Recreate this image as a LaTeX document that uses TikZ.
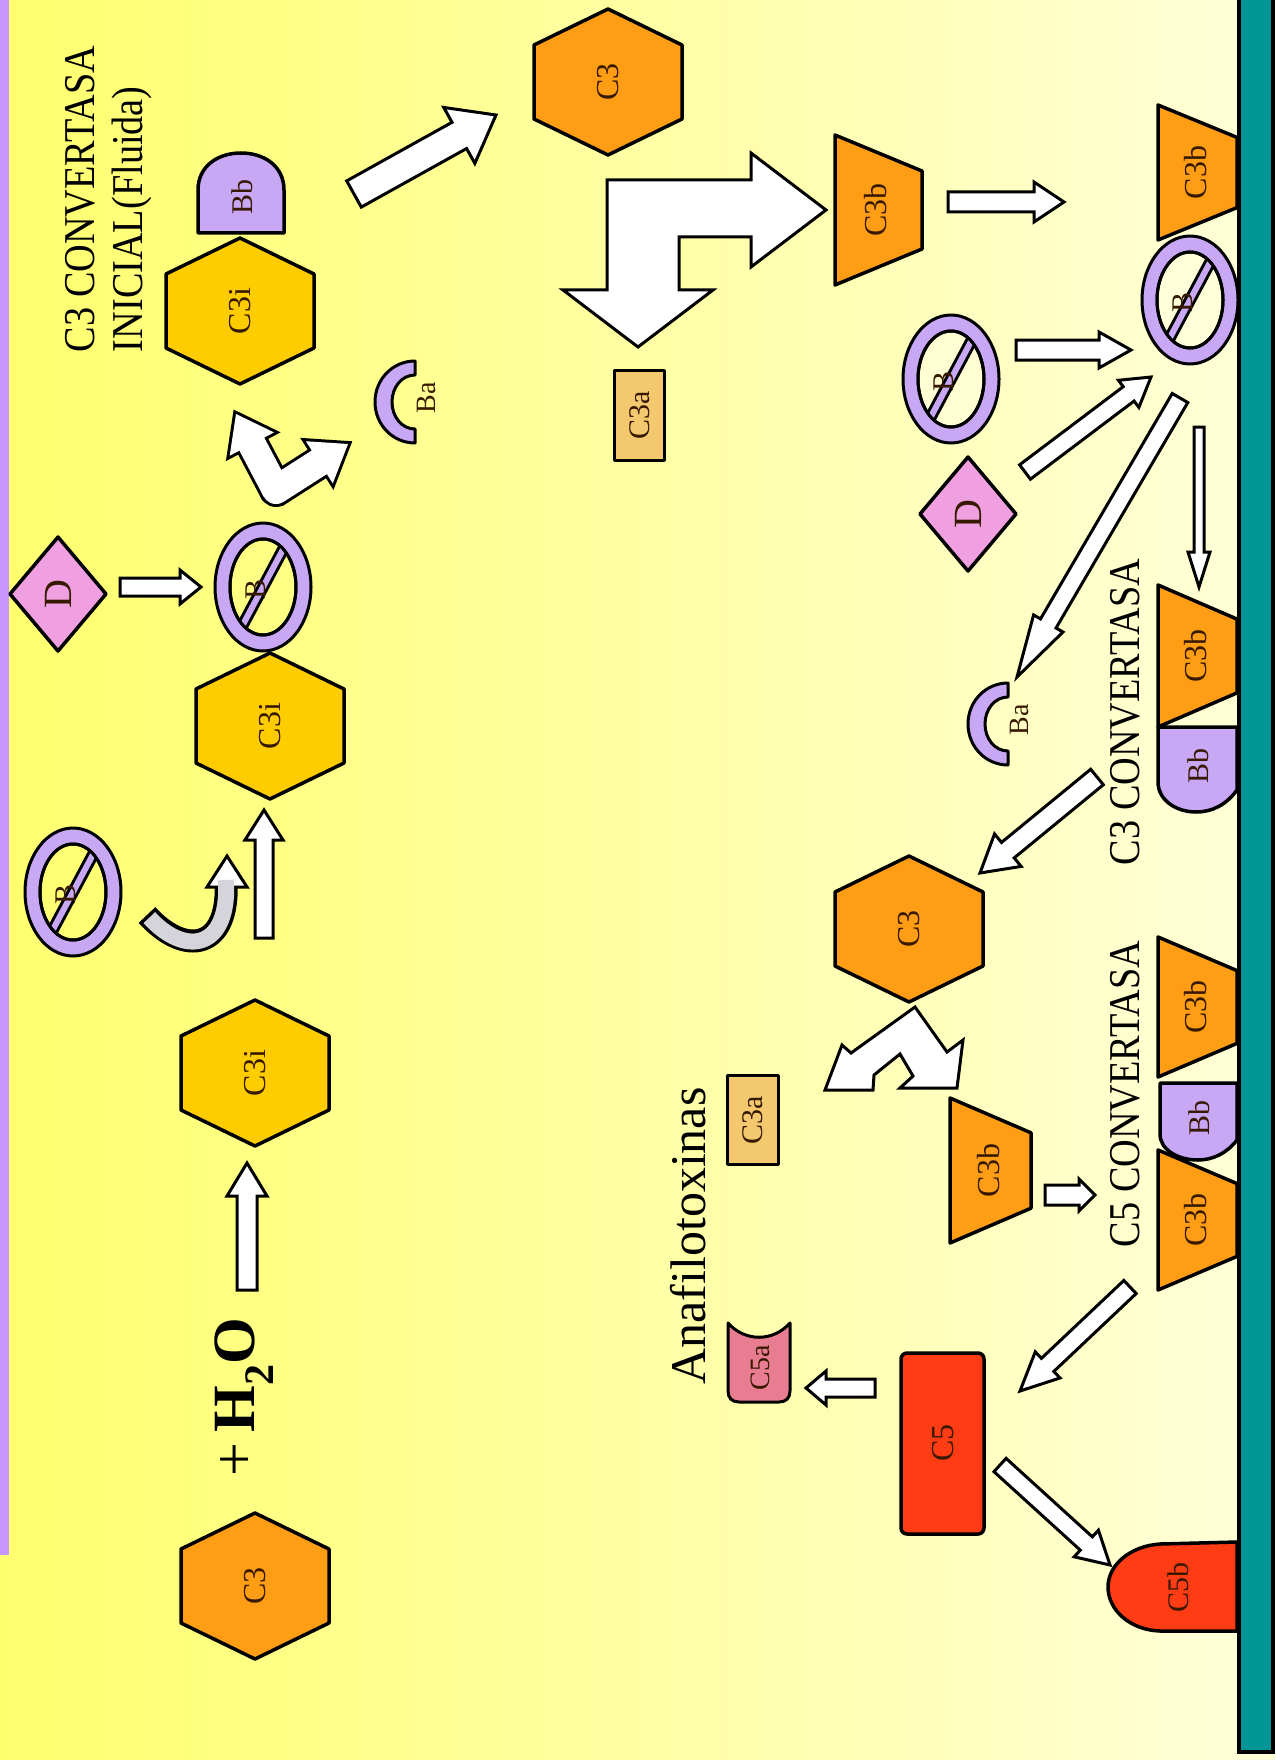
\documentclass[tikz,border=0pt]{standalone}
\usepackage{fontspec}
\setmainfont{Liberation Serif}
\usepackage{graphicx}
\usetikzlibrary{calc}

\definecolor{orng}{RGB}{255,158,20}
\definecolor{gold}{RGB}{255,204,0}
\definecolor{lav}{RGB}{200,168,245}
\definecolor{lavstrip}{RGB}{200,150,255}
\definecolor{pinkd}{RGB}{240,160,225}
\definecolor{tanbox}{RGB}{243,200,110}
\definecolor{redfive}{RGB}{255,60,20}
\definecolor{pinkfive}{RGB}{232,125,145}
\definecolor{membr}{RGB}{0,150,150}
\definecolor{ink}{RGB}{55,25,0}
\definecolor{bgL}{RGB}{255,255,110}
\definecolor{bgM}{RGB}{255,255,185}
\definecolor{bgR}{RGB}{255,255,218}
\definecolor{hookgray}{RGB}{212,212,218}

% hexagon with pointed top and bottom: name, x, y, fill, label
\newcommand{\hexnode}[5]{%
  \filldraw[shp, fill=#4] (#2,#3-73) -- (#2+74,#3-37) -- (#2+74,#3+37) -- (#2,#3+73)
    -- (#2-74,#3+37) -- (#2-74,#3-37) -- cycle;
  \node[lbl] (#1) at (#2,#3) {#5};}

% trapezoid (C3b): name, left x, top y, width, height, label
\newcommand{\trapnode}[6]{%
  \filldraw[shp, fill=orng] (#2,#3) -- (#2+#4,#3+0.24*#5) -- (#2+#4,#3+0.76*#5)
    -- (#2,#3+#5) -- cycle;
  \node[lbl] (#1) at (#2+0.47*#4,#3+0.5*#5) {#6};}

% factor B: ring with a slash; name, x, y, inner colour
\newcommand{\bnode}[4]{%
  \filldraw[shp, line width=3pt, fill=lav] (#2,#3) ellipse [x radius=48pt, y radius=64pt];
  \filldraw[draw=black, line width=3pt, fill=#4] (#2,#3) ellipse [x radius=33pt, y radius=48pt];
  \begin{scope}
    \clip (#2,#3) ellipse [x radius=33pt, y radius=48pt];
    \draw[line width=12pt] (#2+32,#3-60) -- (#2-32,#3+60);
    \draw[line width=6pt, lav] (#2+32,#3-60) -- (#2-32,#3+60);
  \end{scope}
  \draw[line width=3pt] (#2,#3) ellipse [x radius=33pt, y radius=48pt];
  \node[lbl, font=\fontsize{30}{30}\selectfont] (#1) at (#2-7,#3+2) {B};}

% factor D: diamond; name, x, y
\newcommand{\dnode}[3]{%
  \filldraw[shp, fill=pinkd] (#2,#3-57) -- (#2+48,#3) -- (#2,#3+57) -- (#2-48,#3) -- cycle;
  \node[lbl, font=\fontsize{40}{40}\selectfont] (#1) at (#2,#3) {D};}

% fragment Ba: crescent opening to the right; name, x, y
\newcommand{\banode}[3]{%
  \filldraw[shp, line width=3pt, fill=lav] (#2,#3-41) .. controls (#2-22,#3-41) and (#2-40,#3-23) .. (#2-40,#3)
    .. controls (#2-40,#3+23) and (#2-22,#3+41) .. (#2,#3+41) -- (#2,#3+27)
    .. controls (#2-13,#3+27) and (#2-23,#3+15) .. (#2-23,#3)
    .. controls (#2-23,#3-15) and (#2-13,#3-27) .. (#2,#3-27) -- cycle;
  \node[lbl, font=\fontsize{28}{28}\selectfont] (#1) at (#2+11,#3-4) {Ba};}

% block arrow from coordinate #1 to #2: shaft half width, head half width, head length
\newcommand{\barrow}[5]{%
  \coordinate (hb) at ($(#2)!#5!(#1)$);
  \draw[barr] ($(#1)!#3!90:(#2)$) -- ($(hb)!#3!-90:(#1)$) -- ($(hb)!#4!-90:(#1)$) -- (#2)
    -- ($(hb)!#4!90:(#1)$) -- ($(hb)!#3!90:(#1)$) -- ($(#1)!#3!-90:(#2)$) -- cycle;}

% two block arrows leaving one base point, merged into one outline
\newcommand{\twinarrow}[6]{%
  \coordinate (hbA) at ($(#2)!#6!(#1)$);
  \coordinate (hbB) at ($(#3)!#6!(#1)$);
  \foreach \pass in {0,1}{%
    \ifnum\pass=0 \tikzset{twinpass/.style={draw=black, line width=6pt, fill=white}}%
    \else \tikzset{twinpass/.style={fill=white}}\fi
    \path[twinpass, line join=miter] ($(#1)!#4!90:(#2)$) -- ($(hbA)!#4!-90:(#1)$) -- ($(hbA)!#5!-90:(#1)$) -- (#2)
      -- ($(hbA)!#5!90:(#1)$) -- ($(hbA)!#4!90:(#1)$) -- ($(#1)!#4!-90:(#2)$) -- cycle;
    \path[twinpass, line join=miter] ($(#1)!#4!90:(#3)$) -- ($(hbB)!#4!-90:(#1)$) -- ($(hbB)!#5!-90:(#1)$) -- (#3)
      -- ($(hbB)!#5!90:(#1)$) -- ($(hbB)!#4!90:(#1)$) -- ($(#1)!#4!-90:(#3)$) -- cycle;
    \path[twinpass] (#1) circle [radius=#4];
  }}

\begin{document}
\begin{tikzpicture}[x=1pt, y=-1pt,
  shp/.style={draw=black, line width=3.5pt, line join=round},
  lbl/.style={text=ink, inner sep=0pt, rotate=90, font=\fontsize{32}{32}\selectfont},
  barr/.style={draw=black, fill=white, line width=3pt, line join=miter},
  caption/.style={inner sep=0pt, rotate=90, text=black, align=left}]

\useasboundingbox (0,0) rectangle (1275,1760);
\shade[left color=bgL, middle color=bgM, right color=bgR] (0,0) rectangle (1275,1760);
\fill[lavstrip] (0,0) rectangle (9,1555);
\filldraw[fill=membr, draw=black, line width=4pt] (1239,-10) rectangle (1273,1752);

% ---------- fluid phase: spontaneous hydrolysis of C3 ----------
\hexnode{cthree}{255}{1586}{orng}{C3}
\node[caption, font=\fontsize{60}{60}\selectfont] (water) at (244,1397) {+\,\textbf{H\textsubscript{2}O}};
\hexnode{cthreei}{255}{1073}{gold}{C3i}
\bnode{bfree}{73}{892}{bgL!92!bgM}
\hexnode{cthreeiB}{270}{726}{gold}{C3i}
\bnode{bbound}{263}{587}{bgL!70!bgM}
\dnode{dfluid}{58}{594}
\banode{bafluid}{415}{402}
\hexnode{cthreeiBb}{240}{311}{gold}{C3i}
\filldraw[shp, fill=lav] (198,233) -- (198,190) .. controls (198,166) and (218,153) .. (241,153)
  .. controls (264,153) and (284,166) .. (284,190) -- (284,233) -- cycle;
\node[lbl, font=\fontsize{30}{30}\selectfont] (bbfluid) at (242,197) {Bb};
\node[caption, font=\fontsize{44}{48}\selectfont] (convini) at (109,199)
  {\scalebox{0.87}[1]{C3 CONVERTASA}\\\scalebox{0.87}[1]{INICIAL(Fluida)}};

% ---------- cleavage of C3 ----------
\hexnode{cthreeB}{608}{82}{orng}{C3}
\filldraw[shp, fill=tanbox, line width=3pt] (614,370) rectangle (664,460);
\node[lbl, font=\fontsize{30}{30}\selectfont] (cthreea) at (640,415) {C3a};
\trapnode{cthreeb}{835}{135}{87}{150}{C3b}

% ---------- surface: C3 convertase ----------
\trapnode{mcthreeb}{1158}{105}{79}{135}{C3b}
\bnode{mb}{1190}{300}{bgR}
\bnode{bsurf}{951}{379}{bgR!80!bgM}
\dnode{dsurf}{968}{514}
\banode{basurf}{1008}{724}
\trapnode{convcthreeb}{1158}{585}{79}{142}{C3b}
\filldraw[shp, fill=lav] (1158,727) -- (1237,727) -- (1237,790) .. controls (1226,805) and (1212,812) .. (1196,812)
  .. controls (1176,812) and (1158,800) .. (1158,782) -- cycle;
\node[lbl, font=\fontsize{30}{30}\selectfont] (convbb) at (1198,766) {Bb};
\node[caption, font=\fontsize{44}{44}\selectfont] (convthree) at (1125,712) {\scalebox{0.87}[1]{C3 CONVERTASA}};

% ---------- amplification and C5 convertase ----------
\hexnode{cthreeC}{909}{929}{orng}{C3}
\filldraw[shp, fill=tanbox, line width=3pt] (727,1075) rectangle (778,1164);
\node[lbl, font=\fontsize{30}{30}\selectfont] (cthreeaB) at (753,1120) {C3a};
\trapnode{cthreebB}{950}{1098}{81}{145}{C3b}
\trapnode{fivecthreebA}{1158}{937}{79}{140}{C3b}
\filldraw[shp, fill=lav] (1160,1083) -- (1237,1083) -- (1237,1140) .. controls (1227,1153) and (1213,1160) .. (1198,1160)
  .. controls (1178,1160) and (1160,1150) .. (1160,1134) -- cycle;
\node[lbl, font=\fontsize{30}{30}\selectfont] (fivebb) at (1199,1118) {Bb};
\trapnode{fivecthreebB}{1158}{1150}{79}{140}{C3b}
\node[caption, font=\fontsize{44}{44}\selectfont] (convfive) at (1125,1094) {\scalebox{0.87}[1]{C5 CONVERTASA}};

\filldraw[shp, fill=redfive, rounded corners=6pt] (901,1353) rectangle (984,1534);
\node[lbl] (cfive) at (943,1443) {C5};
\filldraw[shp, fill=pinkfive, line width=3pt] (728,1323) .. controls (745,1342) and (773,1342) .. (790,1323)
  -- (790,1391) .. controls (790,1398) and (786,1402) .. (779,1402) -- (739,1402)
  .. controls (732,1402) and (728,1398) .. (728,1391) -- cycle;
\node[lbl, font=\fontsize{28}{28}\selectfont] (cfivea) at (760,1368) {C5a};
\filldraw[shp, fill=redfive] (1237,1542) -- (1160,1544) .. controls (1130,1546) and (1108,1565) .. (1108,1587)
  .. controls (1108,1610) and (1130,1630) .. (1160,1631) -- (1237,1631) -- cycle;
\node[lbl, font=\fontsize{30}{30}\selectfont] (cfiveb) at (1178,1587) {C5b};
\node[caption, font=\fontsize{50}{50}\selectfont] (anaf) at (688,1236) {Anafilotoxinas};

% ---------- connectors ----------
\coordinate (a1s) at (247,1290); \coordinate (a1e) at (247,1163);
\barrow{a1s}{a1e}{10pt}{20pt}{33pt}
\coordinate (a2s) at (264,938); \coordinate (a2e) at (264,810);
\barrow{a2s}{a2e}{9pt}{19pt}{30pt}
\coordinate (a3s) at (120,587); \coordinate (a3e) at (201,587);
\barrow{a3s}{a3e}{9pt}{17pt}{21pt}
\coordinate (a6s) at (354,194); \coordinate (a6e) at (496,115);
\barrow{a6s}{a6e}{15pt}{32pt}{42pt}
\coordinate (a7s) at (948,202); \coordinate (a7e) at (1064,202);
\barrow{a7s}{a7e}{10pt}{20pt}{30pt}
\coordinate (a8s) at (1016,350); \coordinate (a8e) at (1131,350);
\barrow{a8s}{a8e}{10pt}{18pt}{32pt}
\coordinate (a9s) at (1025,472); \coordinate (a9e) at (1151,377);
\barrow{a9s}{a9e}{9pt}{17pt}{28pt}
\coordinate (a10s) at (1180,398); \coordinate (a10e) at (1017,677);
\barrow{a10s}{a10e}{9pt}{17pt}{62pt}
\coordinate (a11s) at (1199,427); \coordinate (a11e) at (1199,587);
\barrow{a11s}{a11e}{5pt}{11pt}{35pt}
\coordinate (a12s) at (1097,777); \coordinate (a12e) at (980,873);
\barrow{a12s}{a12e}{10pt}{21pt}{36pt}
\coordinate (a14s) at (1045,1195); \coordinate (a14e) at (1095,1195);
\barrow{a14s}{a14e}{10pt}{16pt}{16pt}
\coordinate (a15s) at (1130,1287); \coordinate (a15e) at (1020,1391);
\barrow{a15s}{a15e}{9pt}{18pt}{38pt}
\coordinate (a16s) at (875,1388); \coordinate (a16e) at (806,1388);
\barrow{a16s}{a16e}{9pt}{17pt}{20pt}
\coordinate (a17s) at (1000,1465); \coordinate (a17e) at (1110,1565);
\barrow{a17s}{a17e}{9pt}{18pt}{32pt}

% split arrow: C3i-Bb and Ba
\coordinate (splitbase) at (276,490);
\coordinate (splitup) at (236,414);
\coordinate (splitright) at (348,444);
\twinarrow{splitbase}{splitup}{splitright}{14pt}{25pt}{34pt}

% split arrow below C3: C3a and C3b
\draw[barr] (915,1007) -- (947,1052) -- (963,1040) -- (957,1088) -- (900,1088) -- (913,1076)
  -- (900,1054) -- (874,1075) -- (873,1090) -- (825,1090) -- (842,1045) -- (851,1053) -- cycle;

% large bent double arrow: C3b and C3a
\draw[barr] (607,180) -- (751,180) -- (751,153) -- (826,210) -- (751,267) -- (751,237) -- (679,237)
  -- (679,290) -- (713,290) -- (638,347) -- (563,290) -- (607,290) -- cycle;

% hooked arrow: factor B joining C3i
\coordinate (hooks) at (147,915);
\coordinate (hooke) at (226,880);
\draw[line width=23pt] (hooks) .. controls (185,957) and (230,950) .. (hooke);
\filldraw[barr] (207,887) -- (227,856) -- (247,887) -- cycle;
\draw[line width=16pt, hookgray, shorten <=3.5pt] (hooks) .. controls (185,957) and (230,950) .. (hooke);
\end{tikzpicture}
\end{document}
